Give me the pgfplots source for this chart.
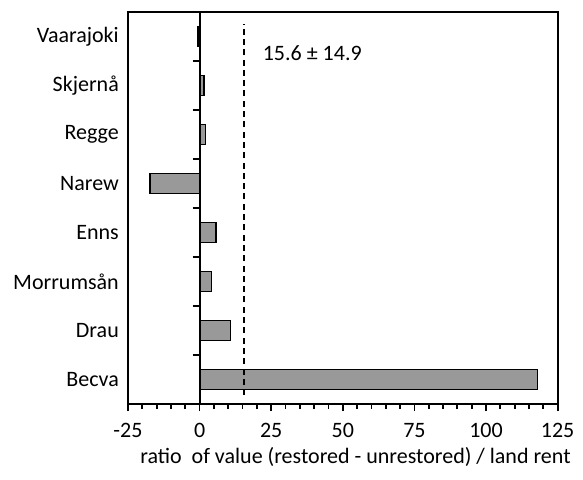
\documentclass[border=0pt]{standalone}
\usepackage{fontspec}
\setmainfont{Carlito}
\usepackage{pgfplots}
\pgfplotsset{compat=1.18}
\definecolor{barfill}{RGB}{153,153,153}
\newcommand{\fs}{\fontsize{22}{26}\selectfont}
\begin{document}
\begin{tikzpicture}
\begin{axis}[name=ax,
  scale only axis, width=429.6pt, height=392pt,
  xmin=-25, xmax=125, ymin=-0.5, ymax=7.5,
  xtick={-25,0,25,50,75,100,125}, minor x tick num=4,
  xtick pos=bottom, tick align=outside,
  major tick length=7pt, minor tick length=5pt,
  xtick style={black, line width=1.8pt},
  ytick={0,1,2,3,4,5,6,7},
  yticklabels={Becva,Drau,Morrumsån,Enns,Narew,Regge,Skjernå,Vaarajoki},
  ytick style={draw=none},
  axis line style={line width=1.8pt},
  tick label style={font=\fs},
  /pgf/number format/assume math mode=true,
  xticklabel style={anchor=base, yshift=-26pt},
  yticklabel style={anchor=east, inner sep=0pt, xshift=-2pt},
  xlabel={ratio\ \ of value (restored - unrestored) / land rent},
  xlabel style={font=\fs, at={(axis description cs:0.5296,0)}, anchor=base, yshift=-59pt},
  clip=false,
]
\addplot[xbar, bar width=19.5pt, fill=barfill, draw=black, line width=1.4pt]
  coordinates {(118.0,0) (10.8,1) (4.1,2) (5.7,3) (-17.3,4) (2.0,5) (1.6,6) (-0.6,7)};
\addplot[black, line width=1.8pt, dash pattern=on 6pt off 4.3pt]
  coordinates {(15.6,-0.32) (15.6,7.26)};
\node[anchor=base west, inner sep=0pt, font=\fs] at (axis cs:22.0,6.52) {15.6 ± 14.9};
\end{axis}
\begin{axis}[at={(ax.south west)}, anchor=south west,
  scale only axis, width=429.6pt, height=392pt,
  xmin=-25, xmax=125, ymin=-0.5, ymax=7.5,
  axis x line=none, axis y line=middle,
  ytick={0.5,1.5,2.5,3.5,4.5,5.5,6.5}, yticklabels={},
  tick align=outside, major tick length=7pt,
  y axis line style={-, line width=1.8pt},
  ytick style={black, line width=1.8pt},
]
\end{axis}
\path[use as bounding box] (ax.south west) ++(-128pt,-75pt) rectangle ++(583pt,479pt);
\end{tikzpicture}
\end{document}
